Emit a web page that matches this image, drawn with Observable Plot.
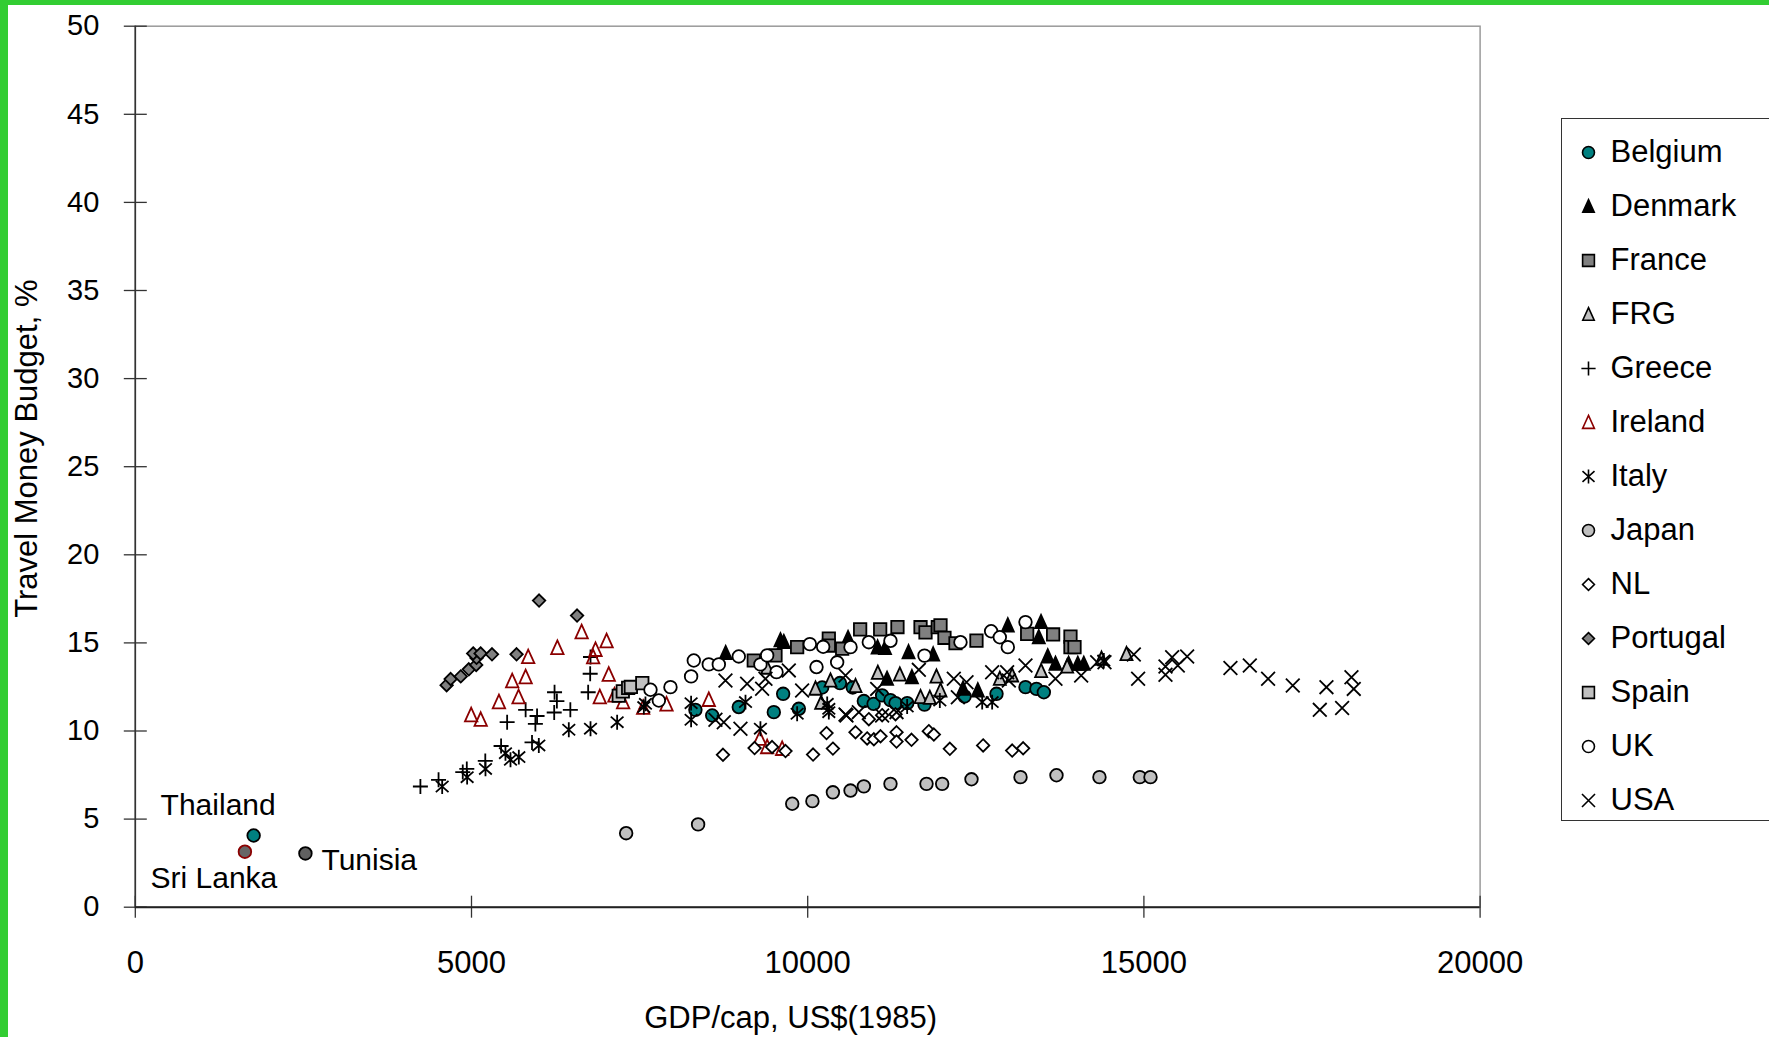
<!DOCTYPE html>
<html><head><meta charset="utf-8">
<script src="https://cdn.jsdelivr.net/npm/d3@7"></script>
<script src="https://cdn.jsdelivr.net/npm/@observablehq/plot@0.6"></script>
<style>
html,body{margin:0;padding:0;background:#fff;}
#wrap{position:relative;width:1769px;height:1037px;overflow:hidden;background:#fff;font-family:"Liberation Sans",Arial,sans-serif;}
#chart{position:absolute;left:0;top:0;}
#legendBox{position:absolute;left:1561px;top:118px;width:260px;height:703px;border:1.5px solid #333;box-sizing:border-box;background:#fff;}
#legend{position:absolute;left:1562px;top:119px;}
.g{position:absolute;background:#32cd32;}
</style></head><body>
<div id="wrap"><div id="chart"></div><div id="legendBox"></div><div id="legend"></div>
<div class="g" style="left:0;top:0;width:8px;height:1037px"></div>
<div class="g" style="left:0;top:0;width:1769px;height:5px"></div>
</div>
<script>
// ---- data: [GDP/cap US$(1985), travel money budget %] ----
const countries = ["Belgium","Denmark","France","FRG","Greece","Ireland","Italy","Japan","NL","Portugal","Spain","UK","USA"];
const belgium = [[8330,11.2],[8580,10.88],[8975,11.36],[9496,11.07],[9635,12.11],[9868,11.26],[10215,12.47],[10480,12.72],[10670,12.47],[10835,11.7],[10980,11.54],[11107,12.02],[11231,11.75],[11306,11.58],[11480,11.58],[11737,11.5],[12332,11.96],[12808,12.11],[13239,12.49],[13402,12.39],[13512,12.2]];
const denmark = [[8780,14.42],[9595,15.14],[9645,15.04],[10600,15.27],[11040,14.74],[11150,14.7],[11500,14.47],[11866,14.34],[11180,12.96],[11550,13.05],[12310,12.4],[12530,12.3],[12976,15.99],[13470,16.18],[13437,15.32],[13570,14.23],[13685,13.81],[13880,13.81],[14017,13.81],[14106,13.81]];
const france = [[9198,14.0],[9521,14.29],[9843,14.76],[10314,15.25],[10314,14.85],[10513,14.67],[10780,15.77],[11078,15.77],[11335,15.9],[11678,15.89],[11752,15.6],[11935,15.89],[11975,16.0],[12034,15.29],[12198,14.98],[12510,15.13],[13264,15.51],[13650,15.48],[13908,15.36],[13908,14.76],[13968,14.76]];
const frg = [[9397,13.59],[10116,12.4],[10200,11.6],[10339,12.86],[10711,12.55],[11043,13.3],[11370,13.2],[11678,11.92],[11816,11.88],[11915,13.09],[11975,12.3],[12857,12.96],[13041,13.15],[13472,13.4],[13859,13.66],[14370,14.1],[14741,14.36]];
const greece = [[4240,6.85],[4510,7.23],[4870,7.67],[4930,7.85],[5205,8.3],[5440,9.15],[5530,10.5],[5805,11.2],[5900,9.35],[5950,10.4],[5975,10.85],[6235,12.2],[6270,11.7],[6230,11.05],[6470,11.2],[6735,12.2],[6765,13.25],[6770,14.2]];
const ireland = [[4995,10.9],[5137,10.64],[5408,11.64],[5605,12.83],[5700,11.92],[5805,13.06],[5843,14.2],[6277,14.72],[6638,15.61],[6844,14.61],[6809,14.19],[7009,15.1],[6908,11.92],[7041,13.2],[7126,12.02],[7255,11.64],[7553,11.32],[7900,11.51],[8529,11.77],[9288,9.56],[9397,9.09],[9620,8.99]];
const italy = [[4564,6.85],[4935,7.38],[5208,7.85],[5505,8.74],[5580,8.37],[5704,8.52],[6001,9.18],[6447,10.07],[6770,10.13],[7166,10.5],[7563,11.36],[7587,11.54],[8266,11.58],[8266,10.64],[9075,11.64],[9297,10.13],[9843,10.98],[10290,11.54],[10314,11.26],[10314,11.07],[11479,11.39],[11965,11.73],[12595,11.64],[12743,11.64],[14404,14.0]];
const japan = [[7300,4.2],[8370,4.7],[9770,5.87],[10070,6.02],[10375,6.52],[10637,6.62],[10835,6.86],[11231,7.0],[11767,7.0],[12000,7.0],[12436,7.26],[13165,7.38],[13700,7.49],[14339,7.38],[14939,7.38],[15098,7.38]];
const nl = [[8740,8.65],[9210,9.03],[9470,9.09],[9670,8.86],[10080,8.66],[10375,9.0],[10280,9.88],[10711,9.93],[10884,9.58],[10984,9.53],[11083,9.7],[10909,10.67],[11107,10.9],[11306,10.95],[11321,9.93],[11321,9.4],[11544,9.5],[11801,9.99],[11876,9.8],[12114,8.99],[12609,9.18],[13041,8.89],[13204,9.02]];
const portugal = [[4630,12.6],[4690,12.95],[4840,13.1],[4960,13.5],[5070,13.75],[5075,14.15],[5025,14.4],[5135,14.4],[5305,14.35],[5670,14.35],[6005,17.4],[6570,16.55]];
const spain = [[7190,12.0],[7250,12.25],[7330,12.45],[7370,12.5],[7540,12.72]];
const uk = [[7662,12.34],[7786,11.73],[7959,12.49],[8266,13.1],[8306,14.0],[8529,13.78],[8678,13.78],[8975,14.23],[9297,13.78],[9397,14.29],[9536,13.34],[10032,14.93],[10131,13.63],[10230,14.78],[10438,13.9],[10637,14.76],[10909,15.04],[11231,15.12],[11737,14.28],[12272,15.04],[12728,15.66],[12857,15.32],[12976,14.76],[13239,16.18]];
const usa = [[8628,10.64],[8752,10.5],[8777,12.87],[9000,10.13],[9099,12.68],[9322,12.4],[9372,12.96],[9719,13.44],[9917,12.3],[10562,10.94],[10562,13.15],[10577,10.88],[10760,11.07],[11033,12.39],[11107,10.88],[11321,11.07],[11653,13.47],[12173,12.96],[12233,11.92],[12362,12.77],[12743,13.34],[12966,13.34],[12991,12.86],[13239,13.72],[13685,12.96],[14067,13.15],[14305,13.9],[14414,13.9],[14850,14.34],[14914,12.96],[15321,13.19],[15321,13.66],[15420,14.19],[15504,13.72],[15643,14.23],[16287,13.58],[16575,13.72],[16847,12.96],[17214,12.58],[17715,12.49],[17616,11.2],[17948,11.31],[18087,13.05],[18121,12.39]];
const seriesData = [belgium,denmark,france,frg,greece,ireland,italy,japan,nl,portugal,spain,uk,usa];

const otherNames = ["Thailand","Sri Lanka","Tunisia"];
const otherGdp = [1760,1630,2530];
const otherTmb = [4.07,3.15,3.05];

const xTicks = [0,5000,10000,15000,20000];
const yTicks = [0,5,10,15,20,25,30,35,40,45,50];

// ---- styles ----
const asterisk = {draw(ctx, size){ const h = Math.sqrt(size)*0.7, d = h*0.85, e = h*0.75;
  ctx.moveTo(0,-h); ctx.lineTo(0,h); ctx.moveTo(-d,-e); ctx.lineTo(d,e); ctx.moveTo(-d,e); ctx.lineTo(d,-e);}};
const tri = {draw(ctx, size){ const s = Math.sqrt(size);
  ctx.moveTo(0,-0.6*s); ctx.lineTo(0.5*s,0.5*s); ctx.lineTo(-0.5*s,0.5*s); ctx.closePath();}};
const sty = [
 {symbol:"circle",   fill:"#008080", stroke:"#000", r:6.3},
 {symbol:tri,        fill:"#000",    stroke:"#000", r:6.8},
 {symbol:"square",   fill:"#808080", stroke:"#000", r:7},
 {symbol:tri,        fill:"#c0c0c0", stroke:"#000", r:6.8},
 {symbol:"plus",     fill:"none",    stroke:"#000", r:4.9},
 {symbol:tri,        fill:"none",    stroke:"#8b0000", r:7},
 {symbol:asterisk,   fill:"none",    stroke:"#000", r:6},
 {symbol:"circle",   fill:"#c0c0c0", stroke:"#000", r:6.3},
 {symbol:"diamond2", fill:"#fff",    stroke:"#000", r:5.6},
 {symbol:"diamond2", fill:"#808080", stroke:"#000", r:5.6},
 {symbol:"square",   fill:"#c0c0c0", stroke:"#000", r:7},
 {symbol:"circle",   fill:"#fff",    stroke:"#000", r:6.3},
 {symbol:"times",    fill:"none",    stroke:"#000", r:6.3}
];
const font = '"Liberation Sans", Arial, sans-serif';

const W = 1769, H = 1037, mL = 134.8, mR = W - 1479.6, mT = 25.7, mB = H - 906.7;
const pw = W - mL - mR, ph = H - mT - mB;

const dotMarks = seriesData.map((arr, i) => Plot.dot(arr, {
  x: d => d[0], y: d => d[1], symbol: sty[i].symbol, fill: sty[i].fill,
  stroke: sty[i].stroke, r: sty[i].r, strokeWidth: 1.8
}));

const chart = Plot.plot({
  width: W, height: H, marginLeft: mL, marginRight: mR, marginTop: mT, marginBottom: mB,
  style: {fontFamily: font, background: "transparent", color: "#000", overflow: "visible"},
  x: {domain: [0, 20000]},
  y: {domain: [0, 50]},
  marks: [
    Plot.frame({stroke: "#9a9a9a", strokeWidth: 1.5}),
    Plot.tickX(xTicks, {x: d => d, stroke: "#333", strokeWidth: 1.3, insetTop: ph - 11, insetBottom: -11}),
    Plot.tickY(yTicks, {y: d => d, stroke: "#333", strokeWidth: 1.3, insetLeft: -11, insetRight: pw - 12}),
    Plot.ruleX([0], {stroke: "#333", strokeWidth: 1.6}),
    Plot.ruleY([0], {stroke: "#222", strokeWidth: 2}),
    Plot.axisX({ticks: xTicks, tickSize: 0, tickPadding: 44, tickFormat: d3.format("d"), fontSize: 31, label: null}),
    Plot.axisY({ticks: yTicks, tickSize: 0, tickPadding: 36, fontSize: 29, label: null}),
    ...dotMarks,
    Plot.dot([0], {x: i => otherGdp[i], y: i => otherTmb[i], r: 6.3, fill: "#008080", stroke: "#000", strokeWidth: 1.8}),
    Plot.dot([1], {x: i => otherGdp[i], y: i => otherTmb[i], r: 6.3, fill: "#666", stroke: "#8b0000", strokeWidth: 1.8}),
    Plot.dot([2], {x: i => otherGdp[i], y: i => otherTmb[i], r: 6.3, fill: "#606060", stroke: "#000", strokeWidth: 1.8}),
    Plot.text([0], {x: i => otherGdp[i], y: i => otherTmb[i], text: i => otherNames[i], fontSize: 30, dx: -35.5, dy: -30, textAnchor: "middle", lineAnchor: "middle", fill: "#000"}),
    Plot.text([1], {x: i => otherGdp[i], y: i => otherTmb[i], text: i => otherNames[i], fontSize: 30, dx: -31, dy: 27, textAnchor: "middle", lineAnchor: "middle", fill: "#000"}),
    Plot.text([2], {x: i => otherGdp[i], y: i => otherTmb[i], text: i => otherNames[i], fontSize: 30, dx: 16, dy: 7, textAnchor: "start", lineAnchor: "middle", fill: "#000"}),
    Plot.text(["GDP/cap, US$(1985)"], {frameAnchor: "bottom", dx: -17, dy: 111, fontSize: 31, textAnchor: "middle", lineAnchor: "middle", fill: "#000"}),
    Plot.text(["Travel Money Budget, %"], {frameAnchor: "left", rotate: -90, dx: -107.8, dy: -18, fontSize: 31, textAnchor: "middle", lineAnchor: "middle", fill: "#000"})
  ]
});
document.getElementById("chart").appendChild(chart);

const legend = Plot.plot({
  width: 207, height: 700, margin: 0,
  style: {fontFamily: font, background: "transparent", color: "#000", overflow: "visible"},
  y: {type: "point", domain: countries, range: [29.6, 684], padding: 0, axis: null},
  marks: [
    ...countries.map((c, i) => Plot.dot([c], {y: d => d, frameAnchor: "left", dx: 26,
      symbol: sty[i].symbol, fill: sty[i].fill, stroke: sty[i].stroke, r: sty[i].r * 0.95, strokeWidth: 1.6})),
    Plot.text(countries, {y: d => d, frameAnchor: "left", dx: 48, textAnchor: "start", lineAnchor: "middle", fontSize: 31, fill: "#000"})
  ]
});
document.getElementById("legend").appendChild(legend);
</script>
</body></html>
